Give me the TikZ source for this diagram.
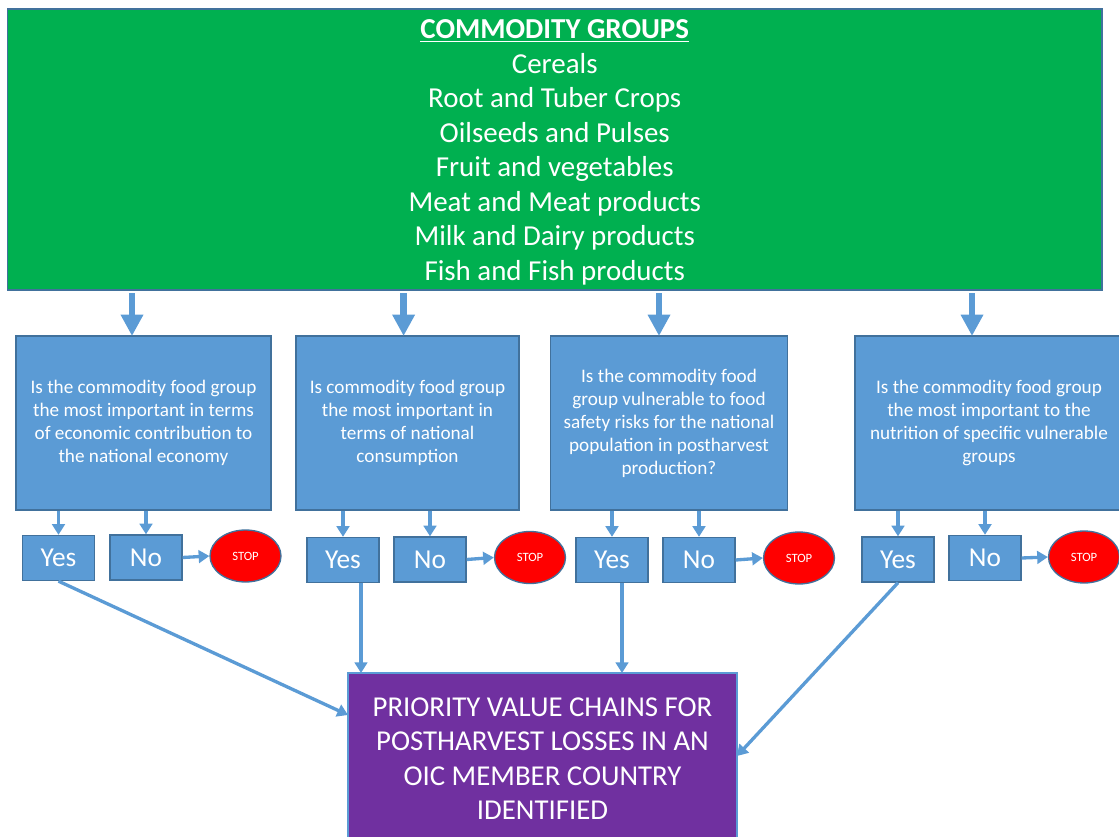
\documentclass[tikz,border=0pt]{standalone}
\usepackage{fontspec}
\setmainfont{Carlito}
\usetikzlibrary{arrows.meta,shapes.geometric}
\definecolor{cgreen}{HTML}{00B050}
\definecolor{qblue}{HTML}{5B9BD5}
\definecolor{qedge}{HTML}{41719C}
\definecolor{cpurple}{HTML}{7030A0}
\definecolor{cred}{HTML}{FF0000}
\tikzset{
  greenbox/.style={draw=qedge, fill=cgreen, inner sep=0pt, line width=1pt},
  gtext/.style={text=white, align=center, inner sep=0pt, font=\fontsize{21.7}{25.9}\selectfont},
  qbox/.style={draw=qedge, fill=qblue, text=white, align=center, inner sep=0pt, line width=1pt,
    font=\fontsize{14.4}{17.25}\selectfont},
  ynbox/.style={draw=qedge, fill=qblue, text=white, inner sep=0pt, line width=1pt,
    minimum width=54pt, minimum height=33.75pt, font=\fontsize{20.5}{24}\selectfont},
  stopnode/.style={ellipse, draw=qedge, fill=cred, text=white, inner sep=0pt, line width=1pt,
    minimum width=53.25pt, minimum height=39pt, font=\fontsize{9.5}{11}\selectfont},
  resbox/.style={draw=qblue, fill=cpurple, text=white, align=center, inner sep=0pt, line width=1pt,
    font=\fontsize{21.6}{25.9}\selectfont},
  bigarr/.style={draw=qblue, line width=5pt, -{Triangle[width=16pt,length=16pt]}},
  smarr/.style={draw=qblue, line width=2.5pt, -{Triangle[width=9.5pt,length=8pt]}},
}
\begin{document}
\begin{tikzpicture}[x=0.75pt,y=-0.75pt]
\useasboundingbox (0,0) rectangle (1119,837);
\clip (0,0) rectangle (1119,837);

\node[greenbox, minimum width=820.9pt, minimum height=210.75pt] (green) at (554.75,149.5) {};
\node[gtext] (greentext) at (554.75,152.5)
  {\underline{\textbf{COMMODITY GROUPS}}\\Cereals\\Root and Tuber Crops\\Oilseeds and Pulses\\Fruit and vegetables\\Meat and Meat products\\Milk and Dairy products\\Fish and Fish products};

\node[qbox, minimum width=191.25pt, minimum height=130.5pt] (q1) at (143.5,423)
  {Is the commodity food group\\the most important in terms\\of economic contribution to\\the national economy};
\node[qbox, minimum width=167.25pt, minimum height=130.5pt] (q2) at (407.5,423)
  {Is commodity food group\\the most important in\\terms of national\\consumption};
\node[qbox, minimum width=177.4pt, minimum height=130.5pt] (q3) at (669,423)
  {Is the commodity food\\group vulnerable to food\\safety risks for the national\\population in postharvest\\production?};
\node[qbox, minimum width=201pt, minimum height=130.5pt] (q4) at (989,423)
  {Is the commodity food group\\the most important to the\\nutrition of specific vulnerable\\groups};

\node[ynbox] (y1) at (58.5,558) {Yes};
\node[ynbox] (n1) at (146,557.5) {No};
\node[stopnode] (s1) at (245.5,556) {STOP};
\node[ynbox] (y2) at (343,560) {Yes};
\node[ynbox] (n2) at (430,559.5) {No};
\node[stopnode] (s2) at (530,557.5) {STOP};
\node[ynbox] (y3) at (612,560) {Yes};
\node[ynbox] (n3) at (699,560) {No};
\node[stopnode] (s3) at (799,558) {STOP};
\node[ynbox] (y4) at (898,559.5) {Yes};
\node[ynbox] (n4) at (985,558) {No};
\node[stopnode] (s4) at (1084,557) {STOP};

\node[resbox, minimum width=291.75pt, minimum height=128.25pt] (res) at (542.5,758.5)
  {PRIORITY VALUE CHAINS FOR\\POSTHARVEST LOSSES IN AN\\OIC MEMBER COUNTRY\\IDENTIFIED};

% big arrows from the green box
\coordinate (a1) at (132,336);
\coordinate (a2) at (403.6,336);
\coordinate (a3) at (659,336);
\coordinate (a4) at (972,336);
\foreach \a in {a1,a2,a3,a4}
  \draw[bigarr] ([yshift=-2pt]green.south -| \a) -- (\a);

% question -> yes/no
\foreach \q/\y/\n in {q1/y1/n1,q2/y2/n2,q3/y3/n3,q4/y4/n4}{
  \draw[smarr] (\q.south -| \y.north) -- (\y.north);
  \draw[smarr] (\q.south -| \n.north) -- (\n.north);
}
% no -> stop
\foreach \n/\s in {n1/s1,n2/s2,n3/s3,n4/s4}
  \draw[smarr] (\n.east) -- (\s.west);

% yes -> result
\coordinate (r1) at (348,715);
\coordinate (r2) at (361,673);
\coordinate (r3) at (622,673);
\coordinate (r4) at (737,756);
\draw[smarr] (y1.south) -- (r1);
\draw[smarr] (y2.south -| r2) -- (r2);
\draw[smarr] (y3.south -| r3) -- (r3);
\draw[smarr] (y4.south) -- (r4);
\end{tikzpicture}
\end{document}
